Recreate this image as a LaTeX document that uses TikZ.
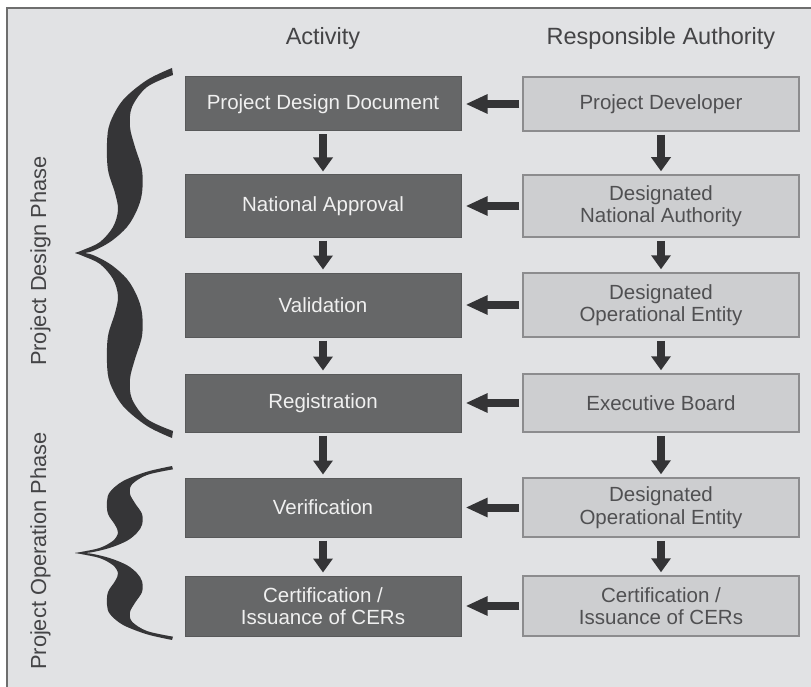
\documentclass[tikz,border=0pt]{standalone}
\usepackage{fontspec}
\setmainfont{Liberation Sans}
\usetikzlibrary{arrows.meta}
\definecolor{bgc}{HTML}{E1E2E4}
\definecolor{framec}{HTML}{6E6E6E}
\definecolor{actfill}{HTML}{666768}
\definecolor{actdraw}{HTML}{58595A}
\definecolor{acttext}{HTML}{F0F0F0}
\definecolor{respfill}{HTML}{CDCED0}
\definecolor{respdraw}{HTML}{8C8C8E}
\definecolor{resptext}{HTML}{505052}
\definecolor{arrowc}{HTML}{343436}
\definecolor{bracec}{HTML}{353537}
\definecolor{labelc}{HTML}{444446}
\newcommand\mybracearm{%
  \fill[bracec] plot[smooth, tension=0.55] coordinates {(0,0) (8,-3) (25,-11) (38,-26) (43,-43) (40,-60) (33,-83) (32,-110) (35,-130) (48,-153) (72,-173) (97,-185)}
  -- plot[smooth, tension=0.55] coordinates {(98,-178) (72,-166) (57,-146) (55,-126) (60,-106) (67,-83) (67,-60) (62,-43) (52,-26) (35,-11) (15,-1) (0,0)} -- cycle;}
\begin{document}
\begin{tikzpicture}[x=1pt,y=-1pt,
  actbox/.style={rectangle, fill=actfill, draw=actdraw, line width=1pt, minimum width=276pt, text=acttext, align=center, font=\fontsize{20.5}{22.5}\selectfont},
  respbox/.style={rectangle, fill=respfill, draw=respdraw, line width=1.5pt, minimum width=276pt, text=resptext, align=center, font=\fontsize{20.5}{22.5}\selectfont},
  header/.style={text=labelc, font=\fontsize{23.5}{26}\selectfont},
  phaselabel/.style={text=labelc, font=\fontsize{21.8}{24}\selectfont},
  varrow/.style={draw=arrowc, line width=8.5pt, -{Triangle[length=14pt,width=19pt]}, shorten <=3pt, shorten >=3pt},
  harrow/.style={draw=arrowc, line width=8pt, -{Triangle[length=22pt,width=18pt]}, shorten <=3pt, shorten >=4pt}]
\useasboundingbox (0,0) rectangle (811,687);
\fill[white] (0,0) rectangle (811,687);
\fill[bgc] (7,8) rectangle (811,687);
\draw[framec, line width=2pt] (7,687) -- (7,8) -- (811,8);

% headers
\node[header, anchor=base] (h1) at (323,45) {Activity};
\node[header, anchor=base] (h2) at (661,45) {Responsible Authority};

% activity boxes
\node[actbox, minimum height=54pt] (a1) at (323,104) {Project Design Document};
\node[actbox, minimum height=62pt] (a2) at (323,206) {National Approval};
\node[actbox, minimum height=64pt] (a3) at (323,305) {Validation};
\node[actbox, minimum height=58pt] (a4) at (323,403) {Registration};
\node[actbox, minimum height=59pt] (a5) at (323,507.5) {Verification};
\node[actbox, minimum height=60pt] (a6) at (323,606) {Certification /\\Issuance of CERs};

% responsible boxes
\node[respbox, minimum height=54pt] (r1) at (661,104) {Project Developer};
\node[respbox, minimum height=62pt] (r2) at (661,206) {Designated\\National Authority};
\node[respbox, minimum height=64pt] (r3) at (661,305) {Designated\\Operational Entity};
\node[respbox, minimum height=58pt] (r4) at (661,403) {Executive Board};
\node[respbox, minimum height=59pt] (r5) at (661,507.5) {Designated\\Operational Entity};
\node[respbox, minimum height=60pt] (r6) at (661,606) {Certification /\\Issuance of CERs};

% vertical arrows
\foreach \i/\j in {1/2,2/3,3/4,4/5,5/6}{
  \draw[varrow] (a\i.south) -- (a\j.north);
  \draw[varrow] (r\i.south) -- (r\j.north);
}
% horizontal arrows
\foreach \i in {1,...,6}{
  \draw[harrow] (r\i.west) -- (a\i.east);
}

% braces
\begin{scope}[shift={(75,253)}] \mybracearm \end{scope}
\begin{scope}[shift={(75,253)}, yscale=-1] \mybracearm \end{scope}
\begin{scope}[shift={(75,553)}, yscale=0.47] \mybracearm \end{scope}
\begin{scope}[shift={(75,553)}, yscale=-0.47] \mybracearm \end{scope}

% phase labels
\node[phaselabel, rotate=90, anchor=base] (pd) at (46,261) {Project Design Phase};
\node[phaselabel, rotate=90, anchor=base] (po) at (46,551) {Project Operation Phase};
\end{tikzpicture}
\end{document}
